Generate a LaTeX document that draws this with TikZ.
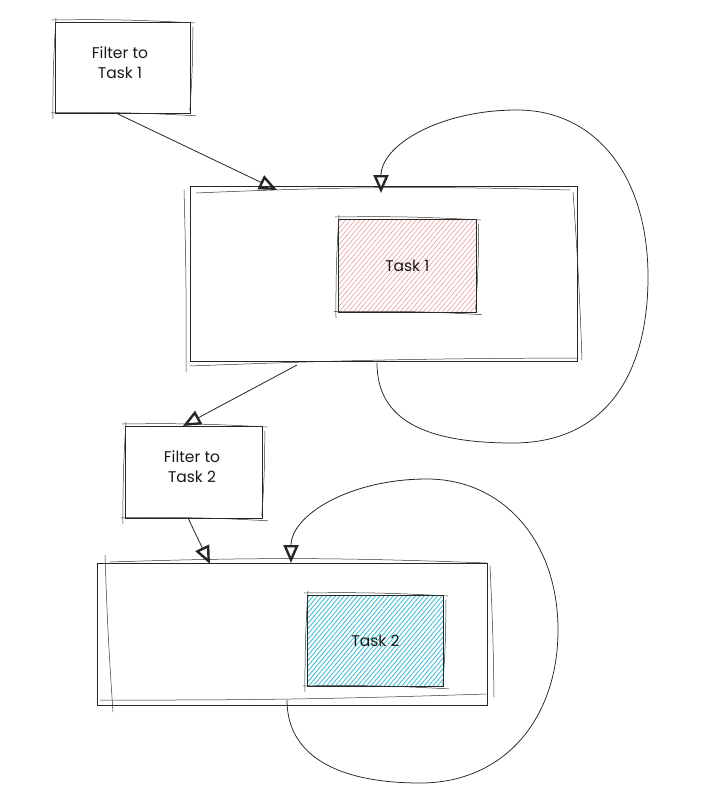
\documentclass[tikz,border=0pt]{standalone}
\usepackage{fontspec}
\setmainfont{Poppins}
\usetikzlibrary{arrows.meta,patterns.meta,calc}
\definecolor{pinkhatch}{HTML}{EE9C9C}
\definecolor{cyanhatch}{HTML}{45C0D3}
\tikzset{
  sk/.style={draw=black!85,line width=0.8pt,line cap=round},
  skthin/.style={draw=black!80,line width=0.5pt,line cap=round},
  box/.style={sk,minimum width=#1,inner sep=0pt,align=center},
  lbl/.style={font=\fontsize{15.5}{20}\selectfont,align=center,text=black!90},
  conn/.style={draw=black!85,line width=0.8pt,-{Triangle[open,length=18pt,width=15pt,line width=2.4pt]}},
  loopc/.style={draw=black!85,line width=0.75pt},
}
\newcommand\skrect[1]{%
  \draw[skthin] ([shift={(-3,-2)}]#1.north west) to[bend left=2] ([shift={(4,1)}]#1.north east);
  \draw[skthin] ([shift={(2,5)}]#1.north east) to[bend left=2] ([shift={(-1,-3)}]#1.south east);
  \draw[skthin] ([shift={(5,2)}]#1.south east) to[bend right=2] ([shift={(-4,-1)}]#1.south west);
  \draw[skthin] ([shift={(-2,5)}]#1.south west) to[bend left=2] ([shift={(1,-4)}]#1.north west);
}
\begin{document}
\begin{tikzpicture}[x=1pt,y=-1pt]
\useasboundingbox[fill=white] (0,0) rectangle (701,800);

% filter 1
\node[box=135pt,minimum height=91pt,anchor=north west] (f1) at (55,22) {};
\node[lbl] (f1t) at (120,63) {Filter to\\Task 1};
\skrect{f1}

% big box 1
\node[box=387pt,minimum height=175pt,anchor=north west] (b1) at (190,186) {};
\draw[skthin] (184,190) to[bend left=1] (186,372);
\draw[skthin] (190,366) to[bend left=1] (578,358);
\draw[skthin] (573,192) to[bend left=1] (582,360);
\draw[skthin] (196,193) to[bend left=2] (570,190);

% task 1
\node[box=138pt,minimum height=93pt,anchor=north west,
  pattern={Lines[angle=50,distance=3.6pt,line width=0.6pt]},pattern color=pinkhatch] (t1) at (338,219) {};
\node[lbl] (t1t) at (t1.center) {Task 1};
\skrect{t1}

% filter 2
\node[box=137pt,minimum height=92pt,anchor=north west] (f2) at (125,426) {};
\node[lbl] (f2t) at (192,467) {Filter to\\Task 2};
\skrect{f2}

% big box 2
\node[box=390pt,minimum height=142pt,anchor=north west] (b2) at (97,563) {};
\draw[skthin] (105,555) to[bend right=1] (113,712);
\draw[skthin] (100,700) to[bend right=1] (486,694);
\draw[skthin] (490,566) to[bend left=1] (494,697);
\draw[skthin] (110,562) to[bend left=2] (487,563);

% task 2
\node[box=136pt,minimum height=91pt,anchor=north west,
  pattern={Lines[angle=50,distance=3.4pt,line width=0.9pt]},pattern color=cyanhatch] (t2) at (307,595) {};
\node[lbl] (t2t) at (t2.center) {Task 2};
\skrect{t2}

% connectors
\coordinate (a1s) at ($(f1.south west)!0.46!(f1.south east)$);
\coordinate (a1e) at (277,190);
\draw[conn] (a1s) -- (a1e);
\coordinate (a2s) at (297,365);
\coordinate (a2e) at ($(f2.north west)!0.42!(f2.north east)$);
\draw[conn] (a2s) -- (a2e);
\coordinate (a3s) at ($(f2.south west)!0.46!(f2.south east)$);
\coordinate (a3e) at (210,564);
\draw[conn] (a3s) -- (a3e);

% loop 1
\coordinate (l1s) at (377,363);
\coordinate (l1e) at (381,193);
\draw[loopc] (l1s) .. controls (377,420) and (425,443) .. (513,443)
  .. controls (605,443) and (648,375) .. (648,277)
  .. controls (648,175) and (595,110) .. (517,110);
\draw[conn] (517,110) .. controls (440,110) and (381,145) .. (l1e);

% loop 2
\coordinate (l2s) at (287,700);
\coordinate (l2e) at (291,563);
\draw[loopc] (l2s) .. controls (287,760) and (345,783) .. (420,783)
  .. controls (505,783) and (558,718) .. (558,630)
  .. controls (558,540) and (502,479) .. (427,479);
\draw[conn] (427,479) .. controls (350,479) and (291,515) .. (l2e);
\end{tikzpicture}
\end{document}
